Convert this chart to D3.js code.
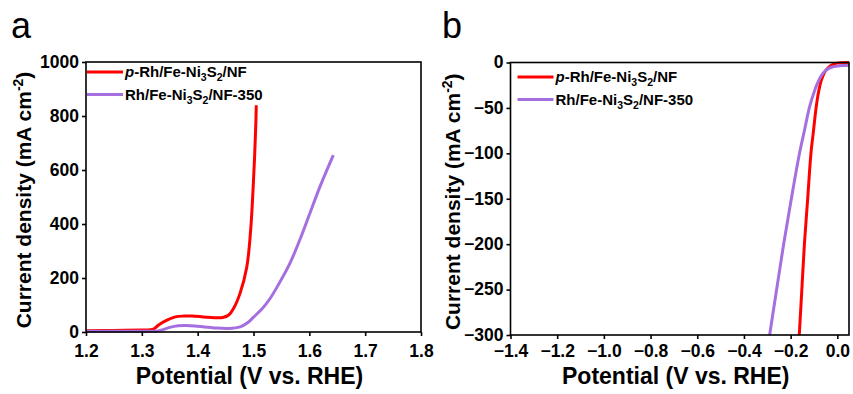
<!DOCTYPE html>
<html>
<head>
<meta charset="utf-8">
<script src="https://cdn.jsdelivr.net/npm/d3@7"></script>
<style>
  body { margin: 0; background: #fff; }
  svg { display: block; font-family: "Liberation Sans", Arial, sans-serif; }
  .axis text { font-size: 17.5px; font-weight: bold; fill: #000; font-family: "Liberation Sans", Arial, sans-serif; }
  .axis path, .axis line { stroke: #000; stroke-width: 1.6; }
</style>
</head>
<body>
<svg id="chart" width="853" height="394"></svg>
<script>
// panel a (OER)
const oerTicks = [1.2, 1.3, 1.4, 1.5, 1.6, 1.7, 1.8];
const oerYTicks = [0, 200, 400, 600, 800, 1000];
const oerRedV = [1.20, 1.25, 1.30, 1.315, 1.322, 1.33, 1.345, 1.36, 1.375, 1.39, 1.41, 1.43, 1.445, 1.455, 1.465, 1.476, 1.488, 1.495, 1.499, 1.502, 1.504, 1.505];
const oerRedJ = [5, 6, 7, 8, 12, 26, 44, 56, 59, 59, 56, 53, 54, 62, 90, 144, 241, 380, 520, 650, 760, 840];
const oerPurV = [1.20, 1.25, 1.30, 1.325, 1.335, 1.35, 1.365, 1.38, 1.40, 1.43, 1.455, 1.476, 1.49, 1.50, 1.515, 1.53, 1.55, 1.566, 1.585, 1.601, 1.62, 1.643];
const oerPurJ = [3, 3, 3, 3, 7, 17, 23, 24, 21, 15, 13, 19, 35, 55, 85, 125, 195, 258, 352, 440, 543, 655];

// panel b (HER)
const herTicks = [-1.4, -1.2, -1.0, -0.8, -0.6, -0.4, -0.2, 0.0];
const herYTicks = [0, -50, -100, -150, -200, -250, -300];
const herRedV = [-0.163, -0.152, -0.141, -0.127, -0.113, -0.102, -0.091, -0.08, -0.069, -0.055, -0.036, -0.018, 0.0, 0.02, 0.05];
const herRedJ = [-300, -250, -200, -150, -100, -75, -50, -32, -20, -11, -5, -2, -0.7, -0.2, 0];
const herPurV = [-0.29, -0.26, -0.23, -0.197, -0.162, -0.141, -0.12, -0.1, -0.08, -0.062, -0.043, -0.022, 0.0, 0.02, 0.05];
const herPurJ = [-300, -250, -200, -150, -100, -75, -50, -33, -20, -12, -7.5, -5, -4, -3.4, -3];

const seriesColors = ["#ff0000", "#a66fe0"];

const svg = d3.select("#chart");

function legendLabel(text, i) {
    // p in italic for first series, subscripts 3 and 2
    if (i === 0) text.append("tspan").attr("font-style", "italic").text("p");
    text.append("tspan").text(i === 0 ? "-Rh/Fe-Ni" : "Rh/Fe-Ni");
    text.append("tspan").attr("font-size", "10.5px").attr("dy", 4).text("3");
    text.append("tspan").attr("dy", -4).text("S");
    text.append("tspan").attr("font-size", "10.5px").attr("dy", 4).text("2");
    text.append("tspan").attr("dy", -4).text(i === 0 ? "/NF" : "/NF-350");
}

function drawPanel(cfg) {
    const g = svg.append("g");
    const x = d3.scaleLinear().domain(cfg.xDomain).range([cfg.left, cfg.right]);
    const y = d3.scaleLinear().domain(cfg.yDomain).range([cfg.bottom, cfg.top]);

    const line = d3.line()
        .x(d => x(d[0]))
        .y(d => y(d[1]))
        .curve(d3.curveCatmullRom.alpha(0.5));

    const clipId = "clip-" + cfg.letter;
    svg.append("clipPath").attr("id", clipId)
        .append("rect")
        .attr("x", cfg.left).attr("y", cfg.top - 2)
        .attr("width", cfg.right - cfg.left).attr("height", cfg.bottom - cfg.top + 3);

    cfg.series.forEach((s, i) => {
        g.append("path")
            .datum(d3.zip(s.v, s.j))
            .attr("clip-path", `url(#${clipId})`)
            .attr("fill", "none")
            .attr("stroke", seriesColors[i])
            .attr("stroke-width", 3)
            .attr("stroke-linejoin", "round")
            .attr("d", line);
    });

    // frame
    g.append("rect")
        .attr("x", cfg.left).attr("y", cfg.top)
        .attr("width", cfg.right - cfg.left).attr("height", cfg.bottom - cfg.top)
        .attr("fill", "none").attr("stroke", "#000").attr("stroke-width", 1.6);

    // tick labels sit on the same baseline in both panels
    const pad = 357 - cfg.bottom - 4 - 12.4;
    g.append("g").attr("class", "axis")
        .attr("transform", `translate(0,${cfg.bottom})`)
        .call(d3.axisBottom(x).tickValues(cfg.xTicks).tickSize(4).tickPadding(pad).tickFormat(d3.format(".1f")))
        .call(a => a.select(".domain").remove());

    g.append("g").attr("class", "axis")
        .attr("transform", `translate(${cfg.left},0)`)
        .call(d3.axisLeft(y).tickValues(cfg.yTicks).tickSize(4).tickPadding(3).tickFormat(d3.format("d")))
        .call(a => a.selectAll(".tick text").attr("dy", "0.3em"))
        .call(a => a.select(".domain").remove());

    // axis titles
    g.append("text")
        .attr("x", (cfg.left + cfg.right) / 2 - 4)
        .attr("y", 384)
        .attr("text-anchor", "middle")
        .attr("font-size", "23px").attr("font-weight", "bold")
        .text("Potential (V vs. RHE)");

    const yt = g.append("text")
        .attr("transform", `translate(${cfg.yTitleX},${(cfg.top + cfg.bottom) / 2 + 3}) rotate(-90)`)
        .attr("text-anchor", "middle")
        .attr("font-size", "21px").attr("font-weight", "bold");
    yt.append("tspan").text("Current density (mA cm");
    yt.append("tspan").attr("font-size", "14px").attr("dy", -8).text("-2");
    yt.append("tspan").attr("dy", 8).text(")");

    // panel letter
    g.append("text")
        .attr("x", cfg.letterX).attr("y", 38)
        .attr("font-size", "36px")
        .text(cfg.letter);

    // legend
    cfg.series.forEach((s, i) => {
        const ly = cfg.legendY + i * 22.5;
        g.append("line")
            .attr("x1", cfg.left + cfg.legendDx).attr("x2", cfg.left + cfg.legendDx + 36)
            .attr("y1", ly).attr("y2", ly)
            .attr("stroke", seriesColors[i]).attr("stroke-width", 3);
        const t = g.append("text")
            .attr("x", cfg.left + cfg.legendDx + 38)
            .attr("y", ly + 5)
            .attr("font-size", "15px").attr("font-weight", "bold");
        legendLabel(t, i);
    });
}

drawPanel({
    letter: "a", letterX: 11,
    left: 86, right: 421, top: 62, bottom: 332,
    xDomain: [1.2, 1.8], yDomain: [0, 1000],
    xTicks: oerTicks, yTicks: oerYTicks,
    yTitleX: 31, legendY: 72, legendDx: 1,
    series: [{ v: oerRedV, j: oerRedJ }, { v: oerPurV, j: oerPurJ }]
});

drawPanel({
    letter: "b", letterX: 442,
    left: 510.5, right: 849, top: 62.5, bottom: 335,
    xDomain: [-1.4, 0.05], yDomain: [-300, 0],
    xTicks: herTicks, yTicks: herYTicks,
    yTitleX: 460, legendY: 77, legendDx: 7,
    series: [{ v: herRedV, j: herRedJ }, { v: herPurV, j: herPurJ }]
});
</script>
</body>
</html>
